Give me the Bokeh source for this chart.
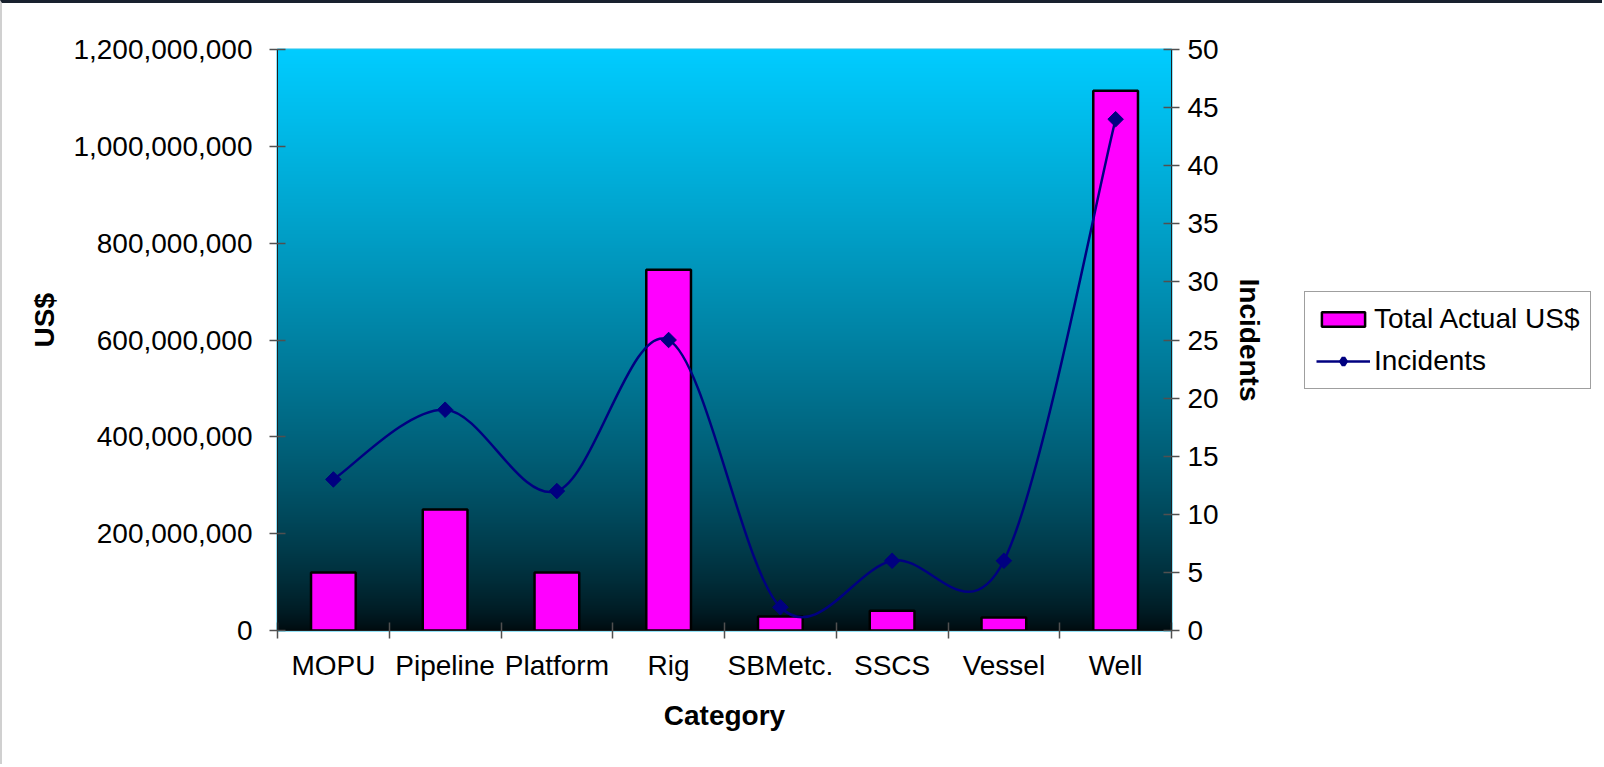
import numpy as np
from bokeh.plotting import figure
from bokeh.layouts import row
from bokeh.models import (Range1d, LinearAxis, FixedTicker, NumeralTickFormatter,
                          Legend, LegendItem, Title)
from bokeh.embed import file_html
from bokeh.resources import INLINE

# ---- data -------------------------------------------------------------
categories = ["MOPU", "Pipeline", "Platform", "Rig", "SBMetc.", "SSCS", "Vessel", "Well"]
total_actual_usd = [120e6, 250e6, 120e6, 745e6, 29e6, 41e6, 27e6, 1115e6]
incidents = [13, 19, 12, 25, 2, 6, 6, 44]
usd_ticks = [0, 200e6, 400e6, 600e6, 800e6, 1000e6, 1200e6]
incident_ticks = [0, 5, 10, 15, 20, 25, 30, 35, 40, 45, 50]

FONT = "Liberation Sans"
BAR_STYLE = dict(fill_color="#FF00FF", line_color="black", line_width=2.5)
LINE_COLOR = "#000080"
n = len(categories)
xc = np.arange(n) + 0.5              # category centres
bounds = list(np.arange(n + 1))      # category boundaries (tick marks)

CHART_W, LEG_W, H = 1288, 314, 764
p = figure(width=CHART_W, height=H, output_backend="svg", toolbar_location=None,
           x_range=Range1d(0, n), y_range=Range1d(usd_ticks[0], usd_ticks[-1]),
           min_border_left=275, min_border_right=CHART_W - 275 - 894,
           min_border_top=46, min_border_bottom=137)
p.styles = {"border-top": "3px solid #18212e", "border-left": "2px solid #d0d0d0"}
p.xaxis.visible = False
p.yaxis.visible = False
p.xgrid.visible = False
p.ygrid.visible = False
p.background_fill_color = "white"
p.border_fill_color = "white"
p.outline_line_color = "#22c4ee"
p.outline_line_width = 2

# ---- vertical gradient behind the plot area ----------------------------
rows = 600
t = np.linspace(0.0, 1.0, rows) ** 0.7
top_rgb = np.array([0, 204, 255])
bot_rgb = np.array([0, 10, 14])
img = np.empty((rows, 1), dtype=np.uint32)
view = img.view(dtype=np.uint8).reshape((rows, 1, 4))
for i in range(3):
    view[:, 0, i] = np.round(bot_rgb[i] + (top_rgb[i] - bot_rgb[i]) * t).astype(np.uint8)
view[:, 0, 3] = 255
p.image_rgba(image=[img], x=0, y=usd_ticks[0], dw=n, dh=usd_ticks[-1] - usd_ticks[0])

# ---- axes -----------------------------------------------------------------
p.extra_y_ranges = {"inc": Range1d(incident_ticks[0], incident_ticks[-1])}

def style_axis(ax):
    ax.axis_line_color = "#202020"
    ax.axis_line_width = 1
    ax.major_tick_line_color = "#505050"
    ax.major_tick_line_width = 1.5
    ax.major_tick_in = 8
    ax.major_tick_out = 8
    ax.minor_tick_line_color = "#505050"
    ax.minor_tick_line_width = 1.5
    ax.major_label_text_font = FONT
    ax.major_label_text_font_size = "28px"
    ax.major_label_text_color = "black"
    ax.axis_label_text_font = FONT
    ax.axis_label_text_font_size = "28px"
    ax.axis_label_text_font_style = "bold"
    ax.axis_label_text_color = "black"

yl = LinearAxis(ticker=FixedTicker(ticks=usd_ticks, minor_ticks=[]),
                formatter=NumeralTickFormatter(format="0,0"))
style_axis(yl)
yl.major_label_standoff = 17
p.add_layout(yl, "left")

# left axis title, sitting a little above the middle of the axis
usd_title = Title(text="US$", align="left", offset=283, standoff=22,
                  text_font=FONT, text_font_size="28px", text_font_style="bold",
                  text_color="black")
p.add_layout(usd_title, "left")

yr = LinearAxis(y_range_name="inc", ticker=FixedTicker(ticks=incident_ticks, minor_ticks=[]),
                axis_label="Incidents")
style_axis(yr)
yr.major_label_standoff = 8
yr.axis_label_standoff = 12
p.add_layout(yr, "right")

xa = LinearAxis(ticker=FixedTicker(ticks=list(xc), minor_ticks=bounds),
                axis_label="Category")
style_axis(xa)
xa.major_tick_in = 0
xa.major_tick_out = 0
xa.minor_tick_in = 8
xa.minor_tick_out = 8
xa.major_label_overrides = {float(v): c for v, c in zip(xc, categories)}
xa.major_label_standoff = 11
xa.axis_label_standoff = 16
p.add_layout(xa, "below")

# ---- bars -----------------------------------------------------------------
p.vbar(x=xc, top=total_actual_usd, width=0.4, bottom=0, **BAR_STYLE)

# ---- smoothed incidents line (Catmull-Rom style Bezier segments) ----------
yv = np.asarray(incidents, dtype=float)
prev_i = np.clip(np.arange(n - 1) - 1, 0, n - 1)
next_i = np.clip(np.arange(n - 1) + 2, 0, n - 1)
i0 = np.arange(n - 1)
i1 = i0 + 1
p.bezier(x0=xc[i0], y0=yv[i0], x1=xc[i1], y1=yv[i1],
         cx0=xc[i0] + (xc[i1] - xc[prev_i]) / 6, cy0=yv[i0] + (yv[i1] - yv[prev_i]) / 6,
         cx1=xc[i1] - (xc[next_i] - xc[i0]) / 6, cy1=yv[i1] - (yv[next_i] - yv[i0]) / 6,
         line_color=LINE_COLOR, line_width=2.5, y_range_name="inc")
p.scatter(x=xc, y=yv, marker="square", angle=np.pi / 4, size=11,
          fill_color=LINE_COLOR, line_color=LINE_COLOR, y_range_name="inc")

# ---- legend panel (separate canvas to the right of the chart) --------------
lg = figure(width=LEG_W, height=H, output_backend="svg", toolbar_location=None,
            x_range=Range1d(0, n), y_range=Range1d(0, 1),
            min_border=0, outline_line_color=None)
lg.styles = {"border-top": "3px solid #18212e"}
lg.axis.visible = False
lg.grid.visible = False
lg_bars = lg.vbar(x=xc, top=total_actual_usd, width=0.4, visible=False, **BAR_STYLE)
lg_line = lg.line(x=xc, y=incidents, line_color=LINE_COLOR, line_width=2.5, visible=False)
lg_pts = lg.scatter(x=xc, y=incidents, marker="diamond", size=11, line_width=4,
                    fill_color=LINE_COLOR, line_color=LINE_COLOR, visible=False)

legend = Legend(items=[LegendItem(label="Total Actual US$", renderers=[lg_bars]),
                       LegendItem(label="Incidents", renderers=[lg_line, lg_pts])],
                location=(16, 241))
legend.label_text_font = FONT
legend.label_text_font_size = "28px"
legend.label_text_color = "black"
legend.glyph_width = 54
legend.glyph_height = 18
legend.label_height = 30
legend.label_standoff = 4
legend.padding = 11
legend.spacing = 10
legend.margin = 0
legend.border_line_color = "#404040"
legend.border_line_width = 1.5
legend.background_fill_color = "white"
legend.background_fill_alpha = 1
lg.add_layout(legend)

layout = row(p, lg, spacing=0)
open("out.html", "w").write(file_html(layout, INLINE))
